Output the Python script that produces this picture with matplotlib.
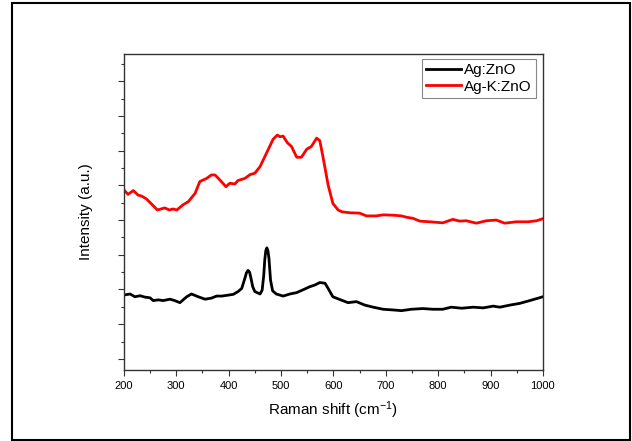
import matplotlib
matplotlib.use("Agg")
import matplotlib.pyplot as plt
from matplotlib.patches import Rectangle
from matplotlib.ticker import MultipleLocator, NullFormatter

plt.rcParams['font.family'] = ['Liberation Sans', 'DejaVu Sans']
plt.rcParams['mathtext.default'] = 'regular'

# Ag:ZnO (black)
x_ag = [200, 212, 221, 231, 240, 250, 256, 266, 275, 288,
        297, 307, 320, 329, 342, 355, 367, 377, 387, 396,
        409, 418, 425, 431, 434, 437, 440, 443, 446, 450, 460, 464, 467,
        469, 471, 473, 475, 477, 480, 484, 491, 504, 517, 530, 542,
        555, 565, 574, 584, 590, 599, 609, 628, 644, 660,
        676, 695, 714, 730, 749, 771, 790, 809, 825, 845,
        867, 886, 905, 918, 937, 956, 975, 991, 1000]
y_ag = [2.84, 2.87, 2.79, 2.82, 2.78, 2.76, 2.68, 2.70, 2.68, 2.72,
        2.68, 2.62, 2.79, 2.87, 2.79, 2.72, 2.75, 2.81, 2.81, 2.83,
        2.86, 2.94, 3.03, 3.32, 3.48, 3.55, 3.50, 3.30, 3.08, 2.94, 2.87, 2.98, 3.40,
        3.85, 4.12, 4.20, 4.12, 3.90, 3.27, 2.96, 2.87, 2.81, 2.87, 2.91, 2.99,
        3.08, 3.13, 3.20, 3.18, 3.03, 2.79, 2.73, 2.62, 2.65, 2.55,
        2.49, 2.43, 2.41, 2.39, 2.43, 2.45, 2.43, 2.43, 2.49, 2.46,
        2.49, 2.47, 2.52, 2.49, 2.55, 2.60, 2.68, 2.75, 2.79]

# Ag-K:ZnO (red)
x_agk = [200, 208, 218, 227, 234, 243, 253, 264, 278, 287,
         294, 301, 313, 323, 336, 345, 358, 367, 374, 383,
         395, 402, 412, 418, 431, 441, 450, 460, 472, 485,
         493, 498, 504, 512, 520, 530, 539, 549, 558, 568,
         574, 580, 590, 599, 609, 616, 631, 650, 663, 682,
         695, 714, 730, 740, 752, 765, 784, 809, 828, 841,
         854, 873, 892, 911, 927, 949, 972, 988, 1000]
y_agk = [5.87, 5.74, 5.85, 5.72, 5.69, 5.61, 5.46, 5.29, 5.35, 5.29,
         5.32, 5.29, 5.44, 5.53, 5.77, 6.11, 6.20, 6.30, 6.30, 6.16,
         5.96, 6.06, 6.04, 6.14, 6.20, 6.31, 6.35, 6.54, 6.92, 7.33,
         7.45, 7.40, 7.42, 7.23, 7.12, 6.81, 6.81, 7.04, 7.12, 7.36,
         7.29, 6.83, 6.01, 5.48, 5.29, 5.24, 5.21, 5.20, 5.12, 5.12,
         5.15, 5.14, 5.12, 5.08, 5.05, 4.97, 4.95, 4.92, 5.02, 4.97,
         4.98, 4.91, 4.98, 5.00, 4.91, 4.95, 4.95, 4.98, 5.04]

labels = ['Ag:ZnO', 'Ag-K:ZnO']

fig = plt.figure(figsize=(6.32, 4.41), dpi=100)
ax = fig.add_axes([0.196, 0.161, 0.663, 0.717])

# outer frame around the whole picture
fig.patches.append(Rectangle((0.019, 0.003), 0.978, 0.990, transform=fig.transFigure,
                             fill=False, edgecolor='black', linewidth=1.5))

ax.plot(x_ag, y_ag, color='black', lw=2.0, label=labels[0])
ax.plot(x_agk, y_agk, color='#ff0000', lw=2.0, label=labels[1])

ax.set_xlim(200, 1000)
ax.set_ylim(0.68, 9.79)
ax.xaxis.set_major_locator(MultipleLocator(100))
ax.xaxis.set_minor_locator(MultipleLocator(50))
ax.yaxis.set_major_locator(MultipleLocator(1))
ax.yaxis.set_minor_locator(MultipleLocator(0.5))
ax.yaxis.set_major_formatter(NullFormatter())

for s in ax.spines.values():
    s.set_color('#333333')
    s.set_linewidth(1.0)
ax.tick_params(which='both', direction='out', top=False, right=False,
               color='#333333', width=0.8, labelsize=8)
ax.tick_params(which='major', length=4.5)
ax.tick_params(which='minor', length=2.5)

ax.set_xlabel('Raman shift (cm$^{-1}$)', fontsize=11, labelpad=6)
ax.set_ylabel('Intensity (a.u.)', fontsize=11, labelpad=14)

leg = ax.legend(loc='upper right', bbox_to_anchor=(0.983, 0.984), borderaxespad=0,
                fontsize=11, fancybox=False, framealpha=1, edgecolor='#888888',
                handlelength=2.3, handletextpad=0.15, labelspacing=0.15, borderpad=0.3)
leg.get_frame().set_linewidth(0.8)

fig.savefig('out.png', dpi=100)
